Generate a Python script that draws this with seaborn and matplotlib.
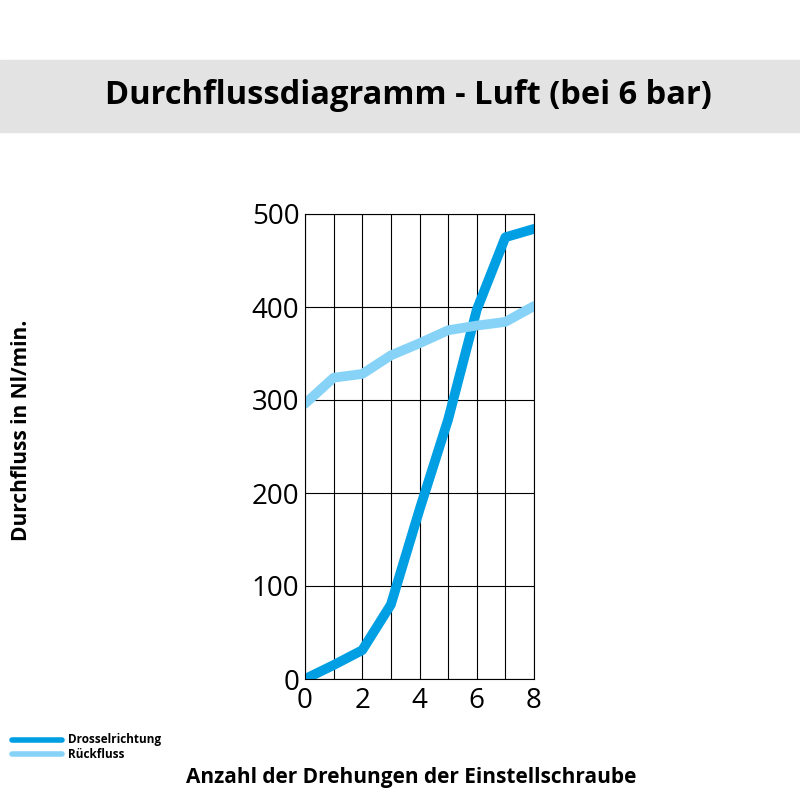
import matplotlib
matplotlib.use("Agg")
import matplotlib.pyplot as plt
import seaborn as sns
import pandas as pd

turns = [0, 1, 2, 3, 4, 5, 6, 7, 8]
drossel = [0, 15, 31, 80, 182, 279, 397, 475, 484]
rueck = [296, 324, 328, 348, 361, 375, 380, 384, 401]
x_ticks = [0, 2, 4, 6, 8]
y_ticks = [0, 100, 200, 300, 400, 500]

sns.set_style("white")
plt.rcParams['font.family'] = ['Open Sans', 'DejaVu Sans']
plt.rcParams['text.color'] = 'black'

df = pd.DataFrame({"turns": turns * 2,
                   "flow": drossel + rueck,
                   "serie": ["Drosselrichtung"] * 9 + ["Rückfluss"] * 9})

fig = plt.figure(figsize=(8, 8), dpi=100)
fig.patches.append(plt.Rectangle((0, 1 - 132 / 800), 1, 72 / 800, transform=fig.transFigure,
                                 color="#e3e3e3", zorder=0))
fig.text(0.51, 1 - 96 / 800, "Durchflussdiagramm - Luft (bei 6 bar)", ha="center", va="center",
         fontsize=23.5, fontweight="bold")

ax = fig.add_axes([305 / 800, 1 - 679 / 800, 229 / 800, 465 / 800])
sns.lineplot(data=df, x="turns", y="flow", hue="serie", ax=ax, linewidth=7,
             palette={"Drosselrichtung": "#009fe3", "Rückfluss": "#86d3f7"}, legend=False)
ax.set_xlim(0, 8)
ax.set_ylim(0, 500)
ax.set_xticks(range(0, 9))
ax.set_xticklabels([str(t) if t in x_ticks else "" for t in range(9)])
ax.set_yticks(y_ticks)
ax.tick_params(length=0, labelsize=20, pad=4, colors="black")
ax.tick_params(axis="x", pad=6)
ax.grid(True, color="black", linewidth=0.8)
for s in ax.spines.values():
    s.set_color("black")
    s.set_linewidth(0.8)
ax.set_xlabel("")
ax.set_ylabel("")

fig.text(22 / 800, 1 - 430 / 800, "Durchfluss in Nl/min.", rotation=90, ha="center", va="center",
         fontsize=15, fontweight="bold")
fig.text(411 / 800, 1 - 777 / 800, "Anzahl der Drehungen der Einstellschraube", ha="center",
         va="center", fontsize=15, fontweight="bold")

fig.lines.append(plt.Line2D([12 / 800, 62 / 800], [1 - 740 / 800] * 2, transform=fig.transFigure,
                            color="#009fe3", linewidth=4))
fig.lines.append(plt.Line2D([12 / 800, 62 / 800], [1 - 754 / 800] * 2, transform=fig.transFigure,
                            color="#86d3f7", linewidth=4))
fig.text(68 / 800, 1 - 740 / 800, "Drosselrichtung", va="center", fontsize=8.5, fontweight="bold")
fig.text(68 / 800, 1 - 754 / 800, "Rückfluss", va="center", fontsize=8.5, fontweight="bold")

fig.savefig("out.png", dpi=100)
